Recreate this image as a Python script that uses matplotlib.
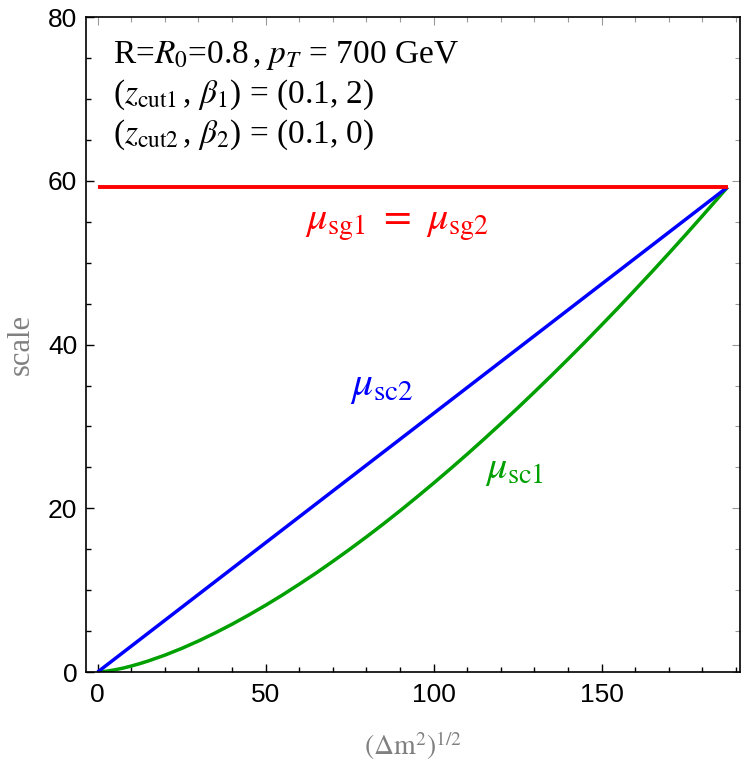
import matplotlib
matplotlib.use("Agg")
import matplotlib.pyplot as plt
from matplotlib.ticker import MultipleLocator

# ---- data ----
x_sc1 = [0, 2.5, 5, 7.5, 10, 12.5, 15, 20, 25, 30, 35, 40, 45, 50, 55, 60, 65, 70, 75, 80, 85, 90, 95,
         100, 105, 110, 115, 120, 125, 130, 135, 140, 145, 150, 155, 160, 165, 170, 175, 180, 185, 187.5]
mu_sc1 = [0, 0.09, 0.26, 0.47, 0.73, 1.02, 1.34, 2.06, 2.88, 3.79, 4.78, 5.84, 6.97, 8.16, 9.41, 10.73,
          12.09, 13.52, 14.99, 16.51, 18.08, 19.70, 21.37, 23.08, 24.83, 26.62, 28.46, 30.34, 32.25,
          34.21, 36.20, 38.23, 40.29, 42.40, 44.53, 46.71, 48.91, 51.15, 53.42, 55.73, 58.07, 59.25]
x_sc2 = [0, 187.5]
mu_sc2 = [0, 59.25]
x_sg = [0, 187.5]
mu_sg = [59.25, 59.25]

x_ticks = [0, 50, 100, 150]
y_ticks = [0, 20, 40, 60, 80]

plt.rcParams['mathtext.fontset'] = 'stix'
plt.rcParams['font.family'] = ['Liberation Serif', 'DejaVu Serif']

fig = plt.figure(figsize=(7.5, 7.65), dpi=100)
ax = fig.add_axes([85.6 / 750, 1 - 672 / 765, (740 - 85.6) / 750, (672 - 17.3) / 765])

green = '#00a000'
ax.plot(x_sc1, mu_sc1, color=green, lw=2.5, solid_capstyle='butt', solid_joinstyle='round')
ax.plot(x_sc2, mu_sc2, color='#0000ff', lw=2.5, solid_capstyle='butt')
ax.plot(x_sg, mu_sg, color='#ff0000', lw=2.8, solid_capstyle='butt')

ax.set_xlim(-3.6, 191.2)
ax.set_ylim(0, 80)

ax.set_xticks(x_ticks)
ax.set_yticks(y_ticks)
ax.xaxis.set_minor_locator(MultipleLocator(10))
ax.yaxis.set_minor_locator(MultipleLocator(5))
ax.tick_params(which='both', direction='in', top=False, right=False, width=1.0, color='black')
ax.tick_params(which='major', length=6)
ax.tick_params(which='minor', length=3.5)
for lab in ax.get_xticklabels() + ax.get_yticklabels():
    lab.set_family('Liberation Sans')
    lab.set_fontsize(19)
ax.tick_params(axis='x', pad=8)
ax.tick_params(axis='y', pad=6)

# top / right light ticks
secx = ax.secondary_xaxis('top')
secx.set_xticks(x_ticks)
secx.xaxis.set_minor_locator(MultipleLocator(10))
secx.tick_params(which='both', direction='in', labeltop=False, color='#999999', width=0.8)
secx.tick_params(which='major', length=6)
secx.tick_params(which='minor', length=3.5)
secx.spines['top'].set_visible(False)
secy = ax.secondary_yaxis('right')
secy.set_yticks(y_ticks)
secy.yaxis.set_minor_locator(MultipleLocator(5))
secy.tick_params(which='both', direction='in', labelright=False, color='#999999', width=0.8)
secy.tick_params(which='major', length=6)
secy.tick_params(which='minor', length=3.5)
secy.spines['right'].set_visible(False)

for s in ax.spines.values():
    s.set_linewidth(1.2)

ax.set_xlabel(r'$(\Delta \mathrm{m}^2)^{1/2}$', color='#808080', fontsize=20, labelpad=16)
ax.set_ylabel('scale', color='#808080', fontsize=22, labelpad=9)

# annotation block
tx = (113 - 85.6) / 654.4
ax.text(tx, 1 - (55 - 17.3) / 654.7, r'R=$R_0$=0.8$\,$, $p_T$ = 700 GeV', transform=ax.transAxes,
        fontsize=24, va='center', ha='left')
ax.text(tx, 1 - (95 - 17.3) / 654.7, r'($z_{\rm cut1}$$\,$, $\beta_1$) = (0.1, 2)', transform=ax.transAxes,
        fontsize=24, va='center', ha='left')
ax.text(tx, 1 - (135 - 17.3) / 654.7, r'($z_{\rm cut2}$$\,$, $\beta_2$) = (0.1, 0)', transform=ax.transAxes,
        fontsize=24, va='center', ha='left')

ax.text(89.1, 54.7, r'$\mu_{\rm sg1}\ =\ \mu_{\rm sg2}$', color='#ff0000', fontsize=29, ha='center', va='center')
ax.text(84.6, 34.8, r'$\mu_{\rm sc2}$', color='#0000ff', fontsize=30, ha='center', va='center')
ax.text(124.2, 24.8, r'$\mu_{\rm sc1}$', color=green, fontsize=29, ha='center', va='center')

fig.savefig('out.png', dpi=100)
